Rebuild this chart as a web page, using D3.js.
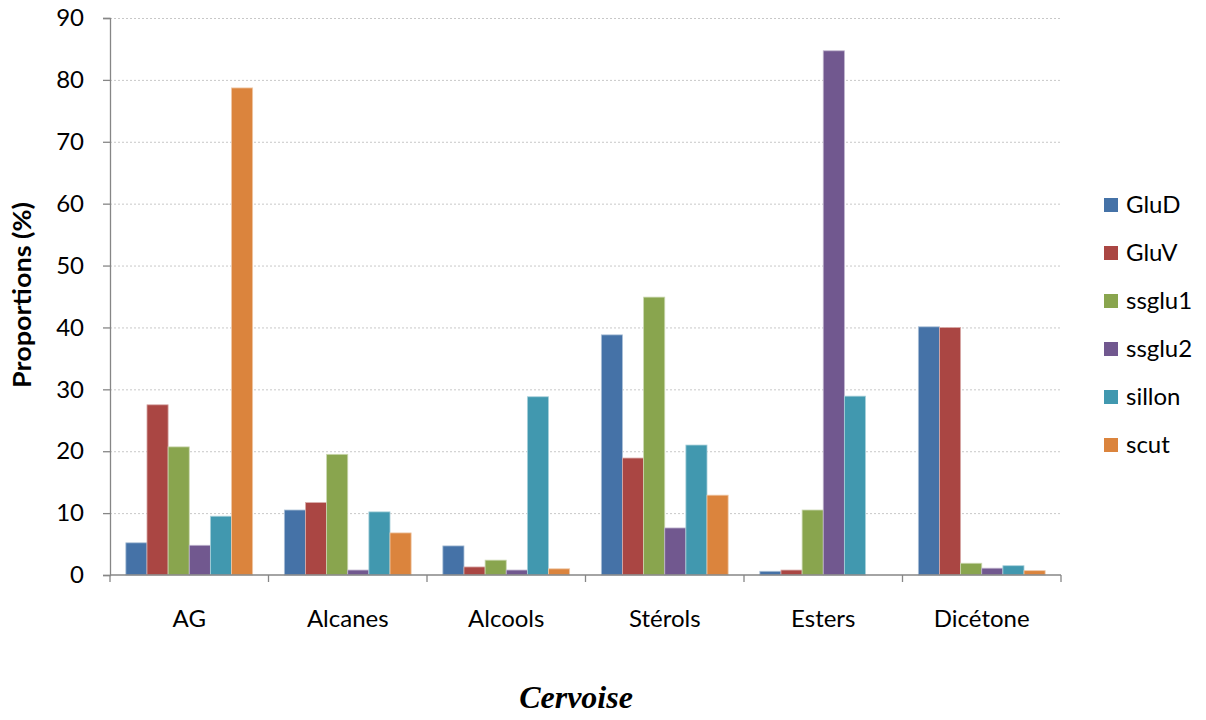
<!DOCTYPE html>
<html><head><meta charset="utf-8">
<script src="https://cdn.jsdelivr.net/npm/d3@7"></script>
<style>body{margin:0;background:#fff;} svg{display:block;}</style>
</head><body>
<svg id="c" width="1206" height="720"></svg>
<script>
const categories = ["AG","Alcanes","Alcools","Stérols","Esters","Dicétone"];
const seriesNames = ["GluD","GluV","ssglu1","ssglu2","sillon","scut"];
const GluD   = [5.2, 10.5, 4.7, 38.8, 0.6, 40.1];
const GluV   = [27.5, 11.7, 1.3, 18.9, 0.8, 40.0];
const ssglu1 = [20.7, 19.5, 2.4, 44.9, 10.5, 1.9];
const ssglu2 = [4.8, 0.8, 0.8, 7.6, 84.7, 1.1];
const sillon = [9.5, 10.2, 28.8, 21.0, 28.9, 1.5];
const scut   = [78.7, 6.8, 1.0, 12.9, 0, 0.7];
const yTicks = [0,10,20,30,40,50,60,70,80,90];
const colors = ["#4572A7","#AA4643","#89A54E","#71588F","#4198AF","#DB843D"];
const series = [GluD, GluV, ssglu1, ssglu2, sillon, scut];

const svg = d3.select("#c");
const L = 110, R = 1061, T = 18, B = 575;
const font = "Lato, 'Open Sans', sans-serif";

const x0 = d3.scaleBand().domain(categories).range([L, R]).paddingInner(0).paddingOuter(0);
const x1 = d3.scaleBand().domain(seriesNames).range([0, x0.bandwidth()]).paddingOuter(0.75).paddingInner(0);
const y = d3.scaleLinear().domain([0, 90]).range([B, T]);

// gridlines
svg.append("g").selectAll("line").data(yTicks.filter(d => d > 0)).join("line")
  .attr("x1", L).attr("x2", R).attr("y1", d => y(d) + 0.5).attr("y2", d => y(d) + 0.5)
  .attr("stroke", "#c8c8c8").attr("stroke-width", 1).attr("stroke-dasharray", "2,2");

// bars
const g = svg.append("g");
series.forEach((vals, si) => {
  const light = d3.interpolateRgb(colors[si], "#ffffff")(0.55);
  g.append("g").selectAll("rect").data(vals).join("rect")
    .attr("x", (d, i) => x0(categories[i]) + x1(seriesNames[si]))
    .attr("y", d => y(d))
    .attr("width", x1.bandwidth())
    .attr("height", d => B - y(d))
    .attr("fill", colors[si])
    .attr("stroke", d => d > 0 ? light : "none")
    .attr("stroke-width", 0.8);
});

// y axis
const yAxis = d3.axisLeft(y).tickValues(yTicks).tickSize(7).tickPadding(19);
const ya = svg.append("g").attr("transform", `translate(${L},0)`).call(yAxis);
ya.select(".domain").attr("stroke", "#868686").attr("stroke-width", 1.3);
ya.selectAll(".tick line").attr("stroke", "#868686").attr("stroke-width", 1.3);
ya.selectAll(".tick text").attr("font-family", font).attr("font-size", 24).attr("fill", "#000");

// x axis
const xTicks = categories.map(c => x0(c)).concat([R]);
svg.append("line").attr("x1", L).attr("x2", R).attr("y1", B).attr("y2", B)
  .attr("stroke", "#868686").attr("stroke-width", 1.3);
svg.append("g").selectAll("line").data(xTicks).join("line")
  .attr("x1", d => d).attr("x2", d => d).attr("y1", B).attr("y2", B + 7)
  .attr("stroke", "#868686").attr("stroke-width", 1.3);
svg.append("g").selectAll("text").data(categories).join("text")
  .attr("x", d => x0(d) + x0.bandwidth() / 2).attr("y", 627)
  .attr("text-anchor", "middle").attr("font-family", font).attr("font-size", 24)
  .attr("fill", "#000").text(d => d);

// y title
svg.append("text").attr("transform", "translate(31,295) rotate(-90)")
  .attr("text-anchor", "middle").attr("font-family", font).attr("font-weight", "bold")
  .attr("font-size", 24).attr("textLength", 186).attr("lengthAdjust", "spacingAndGlyphs")
  .attr("fill", "#000").text("Proportions (%)");

// x title
svg.append("text").attr("x", 576).attr("y", 708).attr("text-anchor", "middle")
  .attr("font-family", "'Liberation Serif', 'Times New Roman', serif")
  .attr("font-style", "italic").attr("font-weight", "bold").attr("font-size", 32)
  .attr("fill", "#000").text("Cervoise");

// legend
const lg = svg.append("g").selectAll("g").data(seriesNames).join("g")
  .attr("transform", (d, i) => `translate(1104,${205 + i * 48})`);
lg.append("rect").attr("x", 0).attr("y", -7).attr("width", 14).attr("height", 14)
  .attr("fill", (d, i) => colors[i]);
lg.append("text").attr("x", 22).attr("y", 8).attr("font-family", font).attr("font-size", 24)
  .attr("fill", "#000").text(d => d);
</script>
</body></html>
